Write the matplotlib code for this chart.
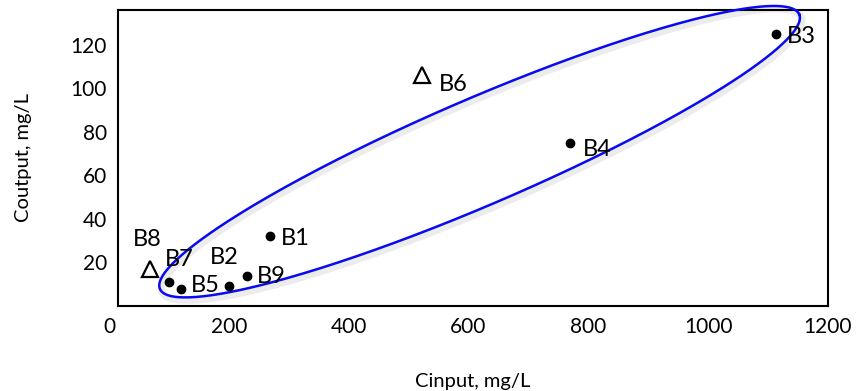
import numpy as np
import matplotlib
matplotlib.use("Agg")
import matplotlib.pyplot as plt

plt.rcParams['font.family'] = ['Lato', 'DejaVu Sans']

# Data
labels = ["B1", "B2", "B3", "B4", "B5", "B6", "B7", "B8", "B9"]
cinput = [268, 200, 1113, 770, 120, 523, 100, 68, 230]
coutput = [32, 9, 125, 75, 8, 106, 11, 17, 14]
marker_type = ["dot", "dot", "dot", "dot", "dot", "tri", "dot", "tri", "dot"]
# label offsets in points
label_dx = [8, -14, 8, 9, 7.5, 12, -3, -12.5, 7.5]
label_dy = [-1.5, 21, -1.5, -4.5, 2, -6.5, 16.5, 21, -1]

x_ticks = [200, 400, 600, 800, 1000, 1200]
y_ticks = [20, 40, 60, 80, 100, 120]

fig = plt.figure(figsize=(8.6, 3.91), dpi=100)
ax = fig.add_axes([118/860, 1-306/391, (828-118)/860, (306-10)/391])
ax.set_xlim(15, 1200)
ax.set_ylim(0, 136)

for x, y, m in zip(cinput, coutput, marker_type):
    if m == "dot":
        ax.plot(x, y, 'o', color='black', markersize=6, zorder=4)
    else:
        ax.plot(x, y, '^', markerfacecolor='white', markeredgecolor='black',
                markersize=11, markeredgewidth=1.6, zorder=4)

for lab, x, y, dx, dy in zip(labels, cinput, coutput, label_dx, label_dy):
    ax.annotate(lab, (x, y), xytext=(dx, dy), textcoords='offset points',
                ha='left', va='center', fontsize=17, color='black', zorder=5)

# Ellipse enclosing group (defined by its two tips in data coords)
tip1 = (85, 7.8)
tip2 = (1152, 134)
fig.canvas.draw()
T = ax.transData
p1 = T.transform(tip1)
p2 = T.transform(tip2)
c = (p1 + p2) / 2
d = p2 - p1
ang = np.arctan2(d[1], d[0])
a = np.hypot(*d) / 2
b = 53
t = np.linspace(0, 2*np.pi, 400)
px = c[0] + a*np.cos(t)*np.cos(ang) - b*np.sin(t)*np.sin(ang)
py = c[1] + a*np.cos(t)*np.sin(ang) + b*np.sin(t)*np.cos(ang)
pts = T.inverted().transform(np.column_stack([px, py]))
sh = T.inverted().transform(np.column_stack([px + 2, py - 3]))
ax.plot(sh[:, 0], sh[:, 1], color='gray', lw=5, alpha=0.15, clip_on=False, zorder=2)
ax.plot(pts[:, 0], pts[:, 1], color='#0a0af0', lw=1.8, clip_on=False, zorder=3)

ax.set_xticks(x_ticks)
ax.set_yticks(y_ticks)
ax.tick_params(length=0, labelsize=15, pad=8)
ax.annotate("0", xy=(0, 0), xycoords='data', xytext=(0, -8),
            textcoords='offset points', ha='center', va='top', fontsize=15,
            annotation_clip=False)
for s in ax.spines.values():
    s.set_linewidth(1.5)
    s.set_color('black')

ax.set_xlabel("Cinput, mg/L", fontsize=14.5, labelpad=26)
ax.set_ylabel("Coutput, mg/L", fontsize=14.5, labelpad=28)

fig.savefig("out.png", dpi=100)
